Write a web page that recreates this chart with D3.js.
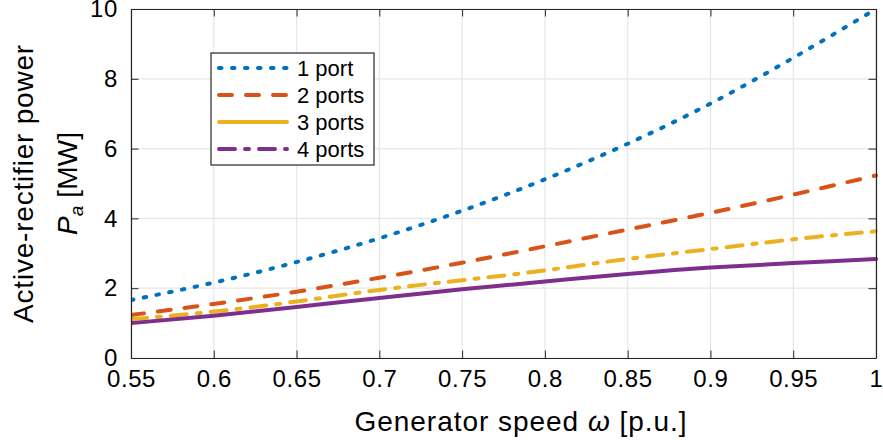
<!DOCTYPE html>
<html><head><meta charset="utf-8">
<script src="https://cdn.jsdelivr.net/npm/d3@7"></script>
<style>
body{margin:0;background:#fff;}
svg text{font-family:"Liberation Sans",Arial,sans-serif;fill:#000;}
</style></head>
<body><svg id="c" width="883" height="440"></svg>
<script>
const omega = [0.55,0.6,0.65,0.7,0.75,0.8,0.85,0.9,0.95,1.0];
const port1 = [1.66,2.16,2.75,3.43,4.22,5.12,6.14,7.29,8.60,10.0];
const port2 = [1.23,1.55,1.90,2.30,2.73,3.20,3.68,4.16,4.68,5.23];
const port3 = [1.11,1.33,1.62,1.95,2.23,2.51,2.84,3.12,3.40,3.63];
const port4 = [1.00,1.21,1.46,1.72,1.97,2.19,2.41,2.59,2.72,2.84];
const xTicks = [0.55,0.6,0.65,0.7,0.75,0.8,0.85,0.9,0.95,1];
const xTickLabels = ["0.55","0.6","0.65","0.7","0.75","0.8","0.85","0.9","0.95","1"];
const yTicks = [0,2,4,6,8,10];
const legendLabels = ["1 port","2 ports","3 ports","4 ports"];

const L=131,R=876,T=9,B=358;
const svg=d3.select("#c");
const x=d3.scaleLinear().domain([0.55,1]).range([L,R]);
const y=d3.scaleLinear().domain([0,10]).range([B,T]);
const ax="#262626";

function fitWidth(sel,target){
  const n=sel.text().length;
  const w=sel.node().getComputedTextLength();
  sel.attr("letter-spacing",((target-w)/(n-1)).toFixed(2));
}

// grid
svg.append("g").selectAll("line").data(xTicks).join("line")
 .attr("x1",d=>x(d)).attr("x2",d=>x(d)).attr("y1",T).attr("y2",B)
 .attr("stroke","#e6e6e6").attr("stroke-width",1.2);
svg.append("g").selectAll("line").data(yTicks).join("line")
 .attr("x1",L).attr("x2",R).attr("y1",d=>y(d)).attr("y2",d=>y(d))
 .attr("stroke","#e6e6e6").attr("stroke-width",1.2);

// series
const series=[
 {v:port1,c:"#0072BD",dash:"2.5,10.5",leg:"2.5,10.5"},
 {v:port2,c:"#D95319",dash:"13,14",leg:"13,14"},
 {v:port3,c:"#EDB120",dash:"16,10,4,10",leg:null},
 {v:port4,c:"#7E2F8E",dash:null,leg:"16,10,4,10"}
];
svg.append("clipPath").attr("id","clip").append("rect")
 .attr("x",L).attr("y",T-3).attr("width",R-L+3).attr("height",B-T+3);
const line=d3.line().x((d,i)=>x(omega[i])).y(d=>y(d)).curve(d3.curveNatural);
const gl=svg.append("g").attr("clip-path","url(#clip)");
series.forEach(s=>{
 gl.append("path").attr("d",line(s.v)).attr("fill","none")
  .attr("stroke",s.c).attr("stroke-width",4).attr("stroke-linecap","round")
  .attr("stroke-dasharray",s.dash);
});

// axes box
const xa=d3.axisBottom(x).tickValues(xTicks).tickFormat((d,i)=>xTickLabels[i]).tickSizeInner(-7.5).tickSizeOuter(0);
const gx=svg.append("g").attr("transform",`translate(0,${B})`).call(xa);
gx.select(".domain").attr("stroke",ax);
gx.selectAll(".tick line").attr("stroke",ax);
gx.selectAll("text").attr("font-size",24).attr("fill","#000").attr("dy",null).attr("y",29).attr("letter-spacing",0.6);
const xt=d3.axisTop(x).tickValues(xTicks).tickFormat("").tickSizeInner(-7.5).tickSizeOuter(0);
const gxt=svg.append("g").attr("transform",`translate(0,${T})`).call(xt);
gxt.select(".domain").attr("stroke",ax); gxt.selectAll(".tick line").attr("stroke",ax);
const ya=d3.axisLeft(y).tickValues(yTicks).tickSizeInner(-7.5).tickSizeOuter(0);
const gy=svg.append("g").attr("transform",`translate(${L},0)`).call(ya);
gy.select(".domain").attr("stroke",ax); gy.selectAll(".tick line").attr("stroke",ax);
gy.selectAll("text").attr("font-size",24).attr("fill","#000").attr("x",-13).attr("letter-spacing",0.6);
const yr=d3.axisRight(y).tickValues(yTicks).tickFormat("").tickSizeInner(-7.5).tickSizeOuter(0);
const gyr=svg.append("g").attr("transform",`translate(${R},0)`).call(yr);
gyr.select(".domain").attr("stroke",ax); gyr.selectAll(".tick line").attr("stroke",ax);
svg.selectAll(".domain").attr("stroke-width",1.2);

// axis titles
const xtitle=svg.append("text").attr("x",521).attr("y",431).attr("text-anchor","middle").attr("font-size",28);
xtitle.append("tspan").text("Generator speed ");
xtitle.append("tspan").attr("font-style","italic").text("ω");
xtitle.append("tspan").text(" [p.u.]");
fitWidth(xtitle,332);

const yc=(T+B)/2;
const yt1=svg.append("text").attr("transform",`translate(33,${yc}) rotate(-90)`).attr("text-anchor","middle").attr("font-size",28).text("Active-rectifier power");
fitWidth(yt1,278);
const yt2=svg.append("text").attr("transform",`translate(77,${yc}) rotate(-90)`).attr("text-anchor","middle").attr("font-size",28);
yt2.append("tspan").attr("font-style","italic").text("P");
yt2.append("tspan").attr("font-style","italic").attr("font-size",19).attr("dy",6).text("a");
yt2.append("tspan").attr("dy",-6).text(" [MW]");
fitWidth(yt2,103);

// legend
const lg=svg.append("g");
lg.append("rect").attr("x",211).attr("y",53).attr("width",163).attr("height",112)
 .attr("fill","#fff").attr("stroke",ax).attr("stroke-width",1.2);
legendLabels.forEach((t,i)=>{
 const yy=68+i*27;
 lg.append("line").attr("x1",219).attr("x2",287).attr("y1",yy).attr("y2",yy)
  .attr("stroke",series[i].c).attr("stroke-width",4).attr("stroke-linecap","round")
  .attr("stroke-dasharray",series[i].leg);
 lg.append("text").attr("x",297).attr("y",yy).attr("dy","0.35em").attr("font-size",22).text(t);
});
</script></body></html>
